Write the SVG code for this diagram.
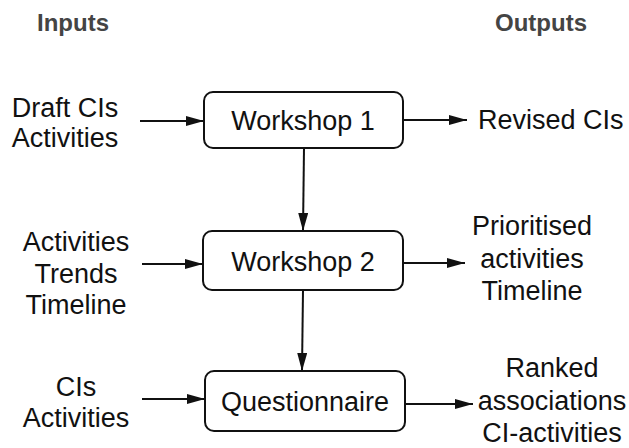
<svg xmlns="http://www.w3.org/2000/svg" width="629" height="448" viewBox="0 0 629 448">
<style>
.t{font-family:"Liberation Sans",Arial,sans-serif;font-size:27px;fill:#111;text-anchor:middle}
.h{font-family:"Liberation Sans",Arial,sans-serif;font-size:24px;font-weight:bold;fill:#444;text-anchor:middle}
.box{fill:#fff;stroke:#111;stroke-width:2}
.c{stroke:#111;stroke-width:2;fill:none;marker-end:url(#ah)}
</style>
<defs>
<marker id="ah" markerWidth="18" markerHeight="10" refX="18" refY="5" orient="auto" markerUnits="userSpaceOnUse">
<path d="M0,0 L18,5 L0,10 Z" fill="#111"/>
</marker>
</defs>
<rect width="629" height="448" fill="#fff"/>
<g id="headers">
<text class="h" x="73" y="31">Inputs</text>
<text class="h" x="541" y="31">Outputs</text>
</g>
<g id="in1">
<text class="t" x="65" y="117">Draft CIs</text>
<text class="t" x="65" y="147">Activities</text>
</g>
<g id="in2">
<text class="t" x="76" y="251">Activities</text>
<text class="t" x="76" y="283">Trends</text>
<text class="t" x="76" y="314">Timeline</text>
</g>
<g id="in3">
<text class="t" x="76" y="396">CIs</text>
<text class="t" x="76" y="427">Activities</text>
</g>
<g id="workshop1">
<rect class="box" x="204" y="92" width="199" height="56" rx="9"/>
<text class="t" x="303" y="130">Workshop 1</text>
</g>
<g id="workshop2">
<rect class="box" x="203" y="231" width="200" height="59" rx="9"/>
<text class="t" x="303" y="271">Workshop 2</text>
</g>
<g id="questionnaire">
<rect class="box" x="205" y="371" width="200" height="60" rx="9"/>
<text class="t" x="305" y="411">Questionnaire</text>
</g>
<g id="out1">
<text class="t" x="478" y="129" style="text-anchor:start">Revised CIs</text>
</g>
<g id="out2">
<text class="t" x="532" y="235">Prioritised</text>
<text class="t" x="532" y="268">activities</text>
<text class="t" x="532" y="300">Timeline</text>
</g>
<g id="out3">
<text class="t" x="552" y="377">Ranked</text>
<text class="t" x="552" y="410">associations</text>
<text class="t" x="552" y="442">CI-activities</text>
</g>
<g id="connectors">
<line class="c" x1="140" y1="121" x2="204" y2="121"/>
<line class="c" x1="403" y1="120" x2="467" y2="120"/>
<line class="c" x1="304" y1="148" x2="303" y2="231"/>
<line class="c" x1="142" y1="264" x2="203" y2="264"/>
<line class="c" x1="403" y1="263" x2="465" y2="263"/>
<line class="c" x1="303" y1="290" x2="302" y2="371"/>
<line class="c" x1="142" y1="399" x2="205" y2="399"/>
<line class="c" x1="405" y1="404" x2="473" y2="404"/>
</g>
</svg>
